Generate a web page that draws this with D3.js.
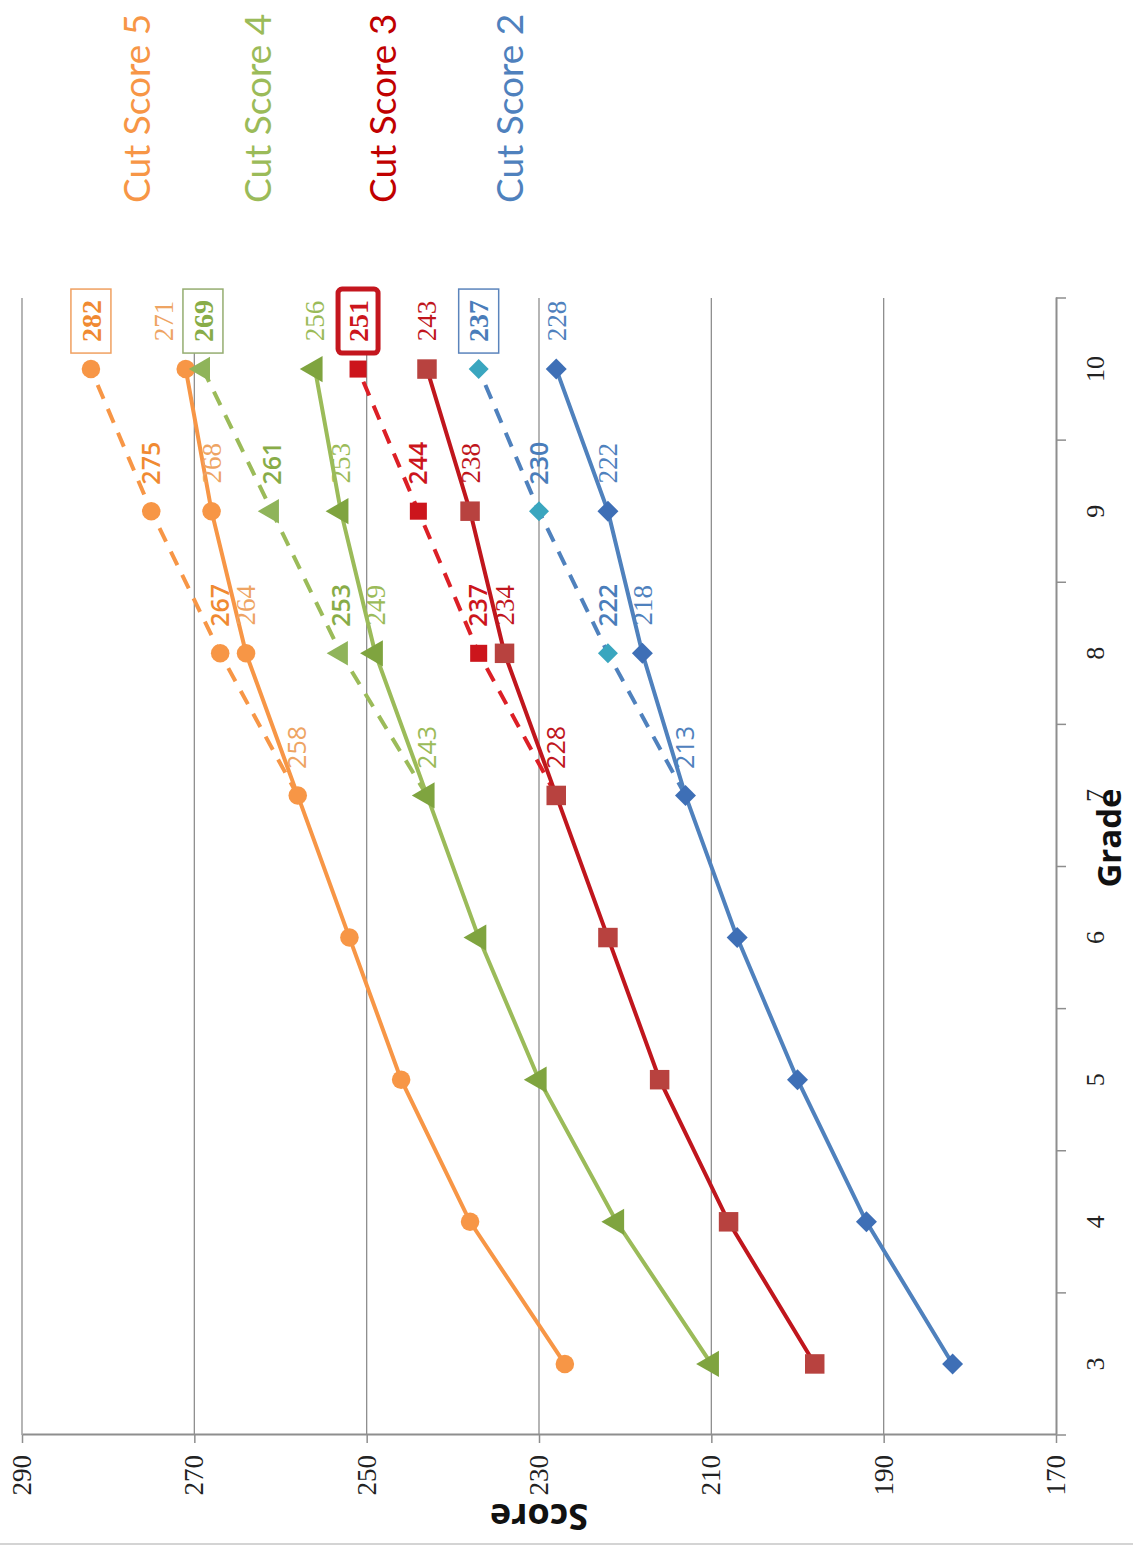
<!DOCTYPE html>
<html>
<head>
<meta charset="utf-8">
<script src="https://cdn.jsdelivr.net/npm/d3@7"></script>
<style>
  html, body { margin: 0; padding: 0; background: #fff; }
  svg { display: block; }
</style>
</head>
<body>
<script>
// Grades and cut scores (solid = grades 3-10, projected dashed = grades 7-10)
const grades = [3, 4, 5, 6, 7, 8, 9, 10];
const cut5 = [227, 238, 246, 252, 258, 264, 268, 271];
const cut4 = [210, 221, 230, 237, 243, 249, 253, 256];
const cut3 = [198, 208, 216, 222, 228, 234, 238, 243];
const cut2 = [182, 192, 200, 207, 213, 218, 222, 228];

const projGrades = [7, 8, 9, 10];
const cut5Proj = [258, 267, 275, 282];
const cut4Proj = [243, 253, 261, 269];
const cut3Proj = [228, 237, 244, 251];
const cut2Proj = [213, 222, 230, 237];

const legendLabels = ["Cut Score 5", "Cut Score 4", "Cut Score 3", "Cut Score 2"];
const scoreTicks = [170, 190, 210, 230, 250, 270, 290];
const labelledGrades = [7, 8, 9, 10];

const W = 1133, H = 1547;

const series = [
  { name: legendLabels[0], solid: cut5, proj: cut5Proj, symbol: "circle",
    line: "#f79646", marker: "#f79646", projLine: "#f79646", projMarker: "#f79646",
    label: "#eea463", projLabel: "#f08a32", legend: "#f79646", box: { stroke: "#f0a060", width: 1.5 } },
  { name: legendLabels[1], solid: cut4, proj: cut4Proj, symbol: "triangle",
    line: "#9bbb59", marker: "#7fa43f", projLine: "#9bbb59", projMarker: "#8fb45a",
    label: "#9bbb59", projLabel: "#88ac48", legend: "#9bbb59", box: { stroke: "#95ad70", width: 1.5 } },
  { name: legendLabels[2], solid: cut3, proj: cut3Proj, symbol: "square",
    line: "#c0161d", marker: "#b8423f", projLine: "#dc1f26", projMarker: "#cc151c",
    label: "#c0161d", projLabel: "#cc151c", legend: "#c00000", box: { stroke: "#c4161e", width: 5, rx: 4 } },
  { name: legendLabels[3], solid: cut2, proj: cut2Proj, symbol: "diamond",
    line: "#4f81bd", marker: "#3e6fb6", projLine: "#4f81bd", projMarker: "#3aa6bf",
    label: "#4f81bd", projLabel: "#4a7dba", legend: "#4f81bd", box: { stroke: "#5b84bc", width: 1.5 } }
];

const svg = d3.select("body").append("svg")
  .attr("width", W).attr("height", H)
  .style("background", "#fff");

// The chart is laid out as a normal grade/score chart, then turned a quarter turn.
const g = svg.append("g").attr("transform", `translate(0,${H}) rotate(-90)`);

const x = d3.scaleBand().domain(grades).range([112, 1249]).padding(0);
const y = d3.scaleLinear().domain([170, 290]).range([1056, 22]);
const cx = d => x(d) + x.bandwidth() / 2;

// Horizontal gridlines
g.append("g").selectAll("line")
  .data(scoreTicks.filter(t => t > 170))
  .join("line")
  .attr("x1", x.range()[0]).attr("x2", x.range()[1])
  .attr("y1", d => y(d)).attr("y2", d => y(d))
  .attr("stroke", "#8e8e8e").attr("stroke-width", 1.3);

// Score axis
const yAxis = g.append("g")
  .attr("transform", `translate(${x.range()[0]},0)`)
  .call(d3.axisLeft(y).tickValues(scoreTicks).tickFormat(d3.format("d"))
    .tickSize(8).tickSizeOuter(0).tickPadding(12));
yAxis.select(".domain").attr("stroke", "#8e8e8e").attr("stroke-width", 2);
yAxis.selectAll(".tick line").attr("stroke", "#8e8e8e").attr("stroke-width", 1.5);
yAxis.selectAll(".tick text")
  .attr("font-family", "'Liberation Serif', serif").attr("font-size", 27).attr("fill", "#222");

// Grade axis
const xAxis = g.append("g")
  .attr("transform", `translate(0,${y(170)})`)
  .call(d3.axisBottom(x).tickSize(0).tickSizeOuter(0));
xAxis.select(".domain").attr("stroke", "#8e8e8e").attr("stroke-width", 2);
xAxis.selectAll(".tick text")
  .attr("y", 30).attr("dy", "0.71em")
  .attr("font-family", "'Liberation Serif', serif").attr("font-size", 26).attr("fill", "#222");
xAxis.append("g").selectAll("line")
  .data(grades.map(d => x(d)).concat([x.range()[1]]))
  .join("line")
  .attr("x1", d => d).attr("x2", d => d)
  .attr("y1", 0).attr("y2", 10)
  .attr("stroke", "#8e8e8e").attr("stroke-width", 1.5);

// Axis titles
g.append("text")
  .attr("transform", `translate(30,${(y(170) + y(290)) / 2}) rotate(-90)`)
  .attr("text-anchor", "middle").attr("dy", "0.35em")
  .attr("font-family", "'Open Sans', sans-serif").attr("font-weight", 700)
  .attr("font-size", 36).attr("fill", "#111")
  .text("Score");
g.append("text")
  .attr("x", 709).attr("y", 1121)
  .attr("text-anchor", "middle")
  .attr("font-family", "'Open Sans', sans-serif").attr("font-weight", 700)
  .attr("font-size", 33).attr("fill", "#111")
  .text("Grade");

// Legend
const legendY = [137, 258, 383, 510];
g.append("g").selectAll("text")
  .data(series)
  .join("text")
  .attr("x", 1344).attr("y", (d, i) => legendY[i]).attr("dy", "0.35em")
  .attr("font-family", "Lato, 'Open Sans', sans-serif").attr("font-size", 37)
  .attr("fill", d => d.legend)
  .text(d => d.name);

const line = d3.line().x(d => cx(d.grade)).y(d => y(d.value));

function markerPath(kind, size) {
  if (kind === "circle") return d3.symbol(d3.symbolCircle, size)();
  if (kind === "triangle") return d3.symbol(d3.symbolTriangle, size)();
  return d3.symbol(d3.symbolSquare, size)();
}
function markerRotate(kind) { return kind === "diamond" ? 45 : 0; }
const markerSize = { circle: 270, triangle: 300, square: 380, diamond: 220 };
const projMarkerSize = { circle: 270, triangle: 260, square: 290, diamond: 200 };

series.forEach(s => {
  const solidPts = grades.map((gr, i) => ({ grade: gr, value: s.solid[i] }));
  const projPts = projGrades.map((gr, i) => ({ grade: gr, value: s.proj[i] }));
  const sg = g.append("g");

  // projected (dashed) line and markers
  sg.append("path").datum(projPts)
    .attr("d", line).attr("fill", "none")
    .attr("stroke", s.projLine).attr("stroke-width", 4)
    .attr("stroke-dasharray", "15,11");
  sg.append("g").selectAll("path")
    .data(projPts.slice(1))
    .join("path")
    .attr("d", markerPath(s.symbol, projMarkerSize[s.symbol]))
    .attr("transform", d => `translate(${cx(d.grade)},${y(d.value)}) rotate(${markerRotate(s.symbol)})`)
    .attr("fill", s.projMarker);

  // solid line and markers
  sg.append("path").datum(solidPts)
    .attr("d", line).attr("fill", "none")
    .attr("stroke", s.line).attr("stroke-width", 4);
  sg.append("g").selectAll("path")
    .data(solidPts)
    .join("path")
    .attr("d", markerPath(s.symbol, markerSize[s.symbol]))
    .attr("transform", d => `translate(${cx(d.grade)},${y(d.value)}) rotate(${markerRotate(s.symbol)})`)
    .attr("fill", s.marker);
});

// Value labels
const labelOffset = 48;
series.forEach((s, si) => {
  const lg = g.append("g");
  // solid-line labels
  labelledGrades.forEach(gr => {
    const v = s.solid[grades.indexOf(gr)];
    let dx = 0, dy = 0;
    if (si === 0 && gr === 10) { dx = 0; dy = -22; }
    lg.append("text")
      .attr("x", cx(gr) + labelOffset + dx).attr("y", y(v) + dy).attr("dy", "0.35em")
      .attr("text-anchor", "middle")
      .attr("font-family", gr === 7 ? "'Open Sans', sans-serif" : "'Liberation Serif', serif")
      .attr("font-size", gr === 7 ? 25 : 27)
      .attr("fill", s.label)
      .text(v);
  });
  // projected labels
  projGrades.slice(1).forEach(gr => {
    const v = s.proj[projGrades.indexOf(gr)];
    const px = cx(gr) + labelOffset, py = y(v);
    const boxed = gr === 10;
    if (boxed) {
      const bw = 64, bh = 40;
      lg.append("rect")
        .attr("x", px - bw / 2).attr("y", py - bh / 2)
        .attr("width", bw).attr("height", bh)
        .attr("rx", s.box.rx || 0)
        .attr("fill", "#fff").attr("stroke", s.box.stroke).attr("stroke-width", s.box.width);
    }
    lg.append("text")
      .attr("x", px).attr("y", py).attr("dy", "0.35em")
      .attr("text-anchor", "middle")
      .attr("font-family", boxed ? "'Liberation Serif', serif" : "'Open Sans', sans-serif")
      .attr("font-weight", boxed ? 700 : 600)
      .attr("font-size", boxed ? 28 : 25)
      .attr("fill", s.projLabel)
      .text(v);
  });
});

// thin page edge at the bottom
svg.append("line")
  .attr("x1", 0).attr("x2", W).attr("y1", H - 3).attr("y2", H - 3)
  .attr("stroke", "#d4d4d4").attr("stroke-width", 2);
</script>
</body>
</html>
